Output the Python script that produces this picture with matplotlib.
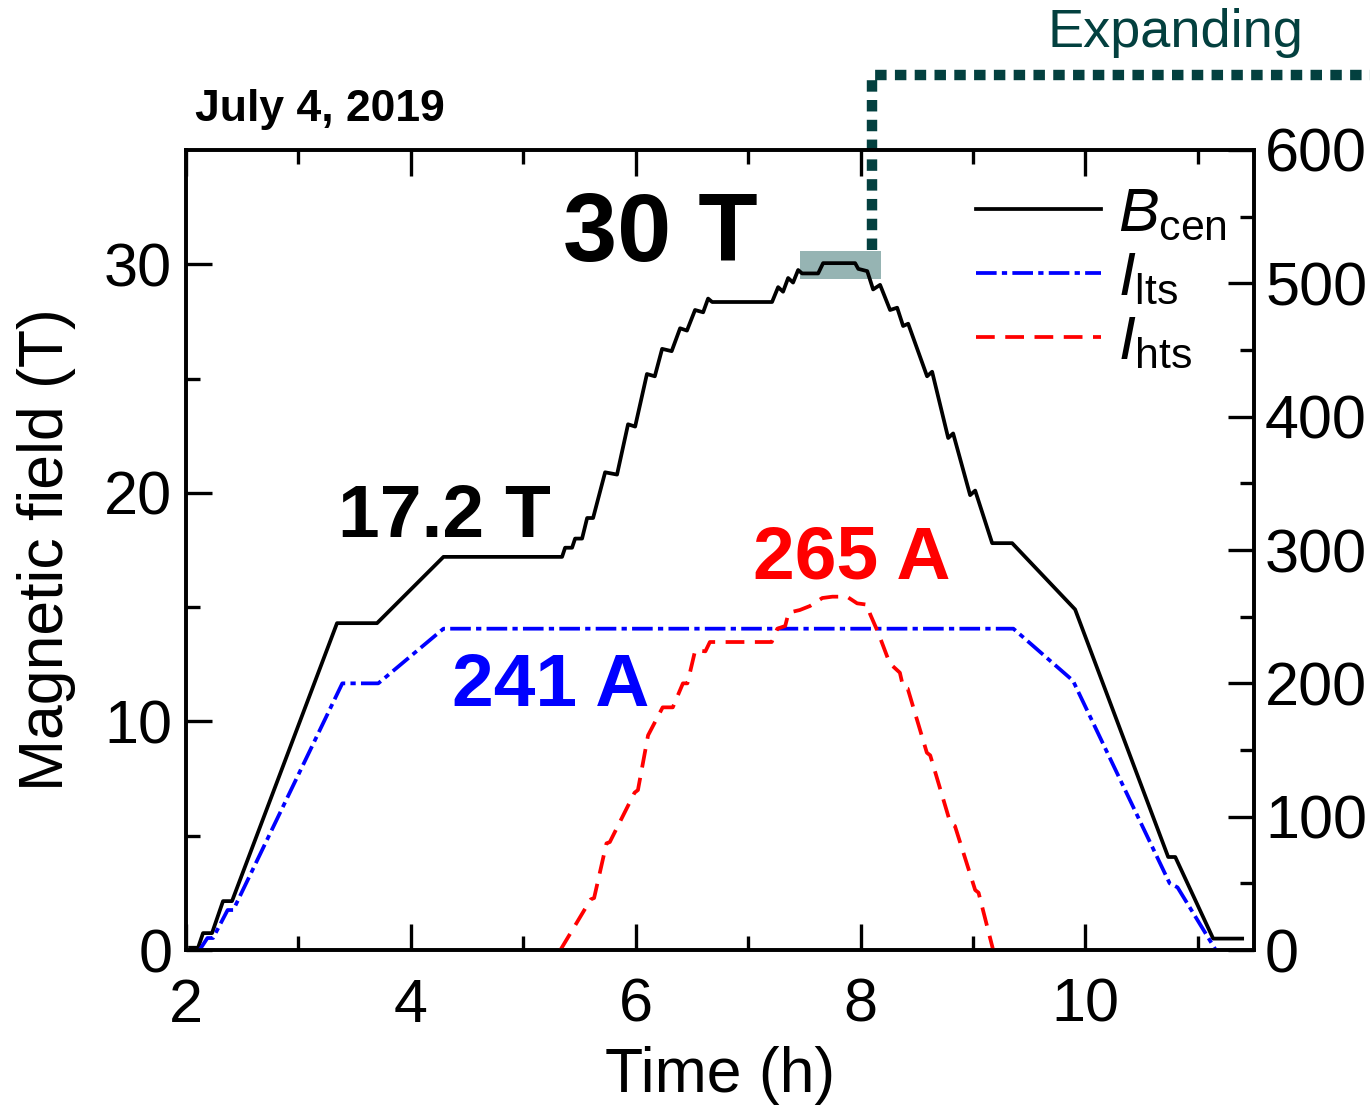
import numpy as np
import matplotlib.pyplot as plt
from matplotlib.patches import Rectangle

plt.rcParams['font.family'] = ['Liberation Sans', 'DejaVu Sans']
plt.rcParams['mathtext.fontset'] = 'custom'
plt.rcParams['mathtext.rm'] = 'Liberation Sans'
plt.rcParams['mathtext.it'] = 'Liberation Sans:italic'

# central field B_cen (T) vs time (h)
t_b = [2.036, 2.107, 2.151, 2.231, 2.329, 2.409, 3.343, 3.699, 4.29, 5.345,
       5.372, 5.434, 5.461, 5.523, 5.568, 5.621, 5.728, 5.834, 5.932, 5.995,
       6.10, 6.17, 6.235, 6.32, 6.395, 6.456, 6.528, 6.60, 6.644, 6.68,
       7.213, 7.267, 7.311, 7.356, 7.40, 7.445, 7.48, 7.623, 7.667, 7.952,
       7.98, 8.06, 8.112, 8.174, 8.263, 8.326, 8.379, 8.424, 8.592, 8.637,
       8.78, 8.824, 8.975, 9.02, 9.171, 9.349, 9.909, 10.737, 10.80, 11.137, 11.395]
b_cen = [0.1, 0.1, 0.74, 0.74, 2.14, 2.14, 14.3, 14.3, 17.2, 17.2,
         17.6, 17.6, 18.0, 18.0, 18.9, 18.9, 20.9, 20.8, 23.0, 22.9,
         25.2, 25.1, 26.3, 26.2, 27.2, 27.1, 28.0, 27.9, 28.5, 28.35,
         28.35, 29.0, 28.8, 29.4, 29.2, 29.75, 29.6, 29.6, 30.05, 30.05,
         29.8, 29.7, 28.9, 29.1, 28.0, 28.1, 27.3, 27.4, 25.1, 25.3,
         22.4, 22.6, 19.9, 20.1, 17.8, 17.8, 14.9, 4.07, 4.07, 0.5, 0.5]

# LTS coil current (A)
t_lts = [2.12, 2.19, 2.24, 2.37, 2.42, 3.39, 3.71, 4.29, 9.36, 9.89, 10.75, 10.82, 11.16]
i_lts = [0, 9, 9, 30, 30, 200, 200, 241, 241, 202, 50, 47, 0]

# HTS coil current (A)
t_hts = [5.33, 5.60, 5.63, 5.74, 5.77, 5.99, 6.02, 6.11, 6.24, 6.33,
         6.42, 6.46, 6.53, 6.62, 6.66, 7.21, 7.26, 7.33, 7.36, 7.46,
         7.55, 7.66, 7.75, 7.88, 7.97, 8.06, 8.085, 8.157, 8.26, 8.35,
         8.38, 8.42, 8.59, 8.62, 8.80, 8.84, 9.02, 9.05, 9.18]
i_hts = [0, 38, 39, 80, 81, 118, 120, 161, 182, 182,
         200, 200, 225, 224, 231, 231, 241, 243, 253, 255,
         258, 264, 265, 265, 260, 259, 252, 238, 215, 208,
         197, 196, 148, 146, 95, 93, 45, 43, 0]

fig = plt.figure(figsize=(13.7, 11.07), dpi=100)
ax = fig.add_axes([0.1358, 0.1418, 0.9153 - 0.1358, 0.8645 - 0.1418])
ax2 = ax.twinx()

l1, = ax.plot(t_b, b_cen, color='black', lw=2.7)
l2, = ax2.plot(t_lts, i_lts, color='#0000ff', lw=2.7, dashes=(5.5, 1.4, 1.4, 1.4))
l3, = ax2.plot(t_hts, i_hts, color='#ff0000', lw=2.7, dashes=(5, 2.8))

ax.set_xlim(2, 11.5)
ax.set_ylim(0, 35)
ax2.set_ylim(0, 600)
ax.set_xticks([2, 4, 6, 8, 10])
ax.set_xticks([3, 5, 7, 9, 11], minor=True)
ax.set_yticks([0, 10, 20, 30])
ax.set_yticks([5, 15, 25], minor=True)
ax2.set_yticks(np.arange(0, 601, 100))
ax2.set_yticks(np.arange(50, 600, 100), minor=True)

ax.tick_params(which='both', direction='in', width=2.4, labelsize=44,
               top=True, right=False)
ax.tick_params(axis='x', pad=20)
ax.tick_params(axis='y', pad=10)
ax.tick_params(which='major', length=19)
ax.tick_params(which='minor', length=10)
ax2.tick_params(which='both', direction='in', width=2.4, labelsize=44, pad=8)
ax2.tick_params(which='major', length=19)
ax2.tick_params(which='minor', length=10)
for a in (ax, ax2):
    for s in a.spines.values():
        s.set_linewidth(2.6)

ax.set_xlabel('Time (h)', fontsize=45, labelpad=8)
ax.set_ylabel('Magnetic field (T)', fontsize=45, labelpad=20)

# highlighted 30 T plateau and "expanding" guide
ax.add_patch(Rectangle((7.46, 29.36), 0.72, 1.24, facecolor='#2f6b68', alpha=0.5,
                       edgecolor='none', zorder=1))
teal = '#03403f'
ax.plot([8.103, 8.103, 12.6], [30.63, 38.28, 38.28], color=teal, lw=7.5,
        ls=(0, (1.1, 0.8)), dash_capstyle='butt', clip_on=False)
fig.text(1047 / 1370, 1 - 47 / 1107, 'Expanding', color=teal, fontsize=39,
         ha='left', va='baseline')

ax.text(6.22, 30.14, '30 T', fontsize=70, fontweight='bold', ha='center', va='baseline')
ax.text(4.30, 18.07, '17.2 T', fontsize=54, fontweight='bold', ha='center', va='baseline')
ax.text(7.92, 16.27, '265 A', fontsize=54, fontweight='bold', color='#ff0000',
        ha='center', va='baseline')
ax.text(5.24, 10.67, '241 A', fontsize=54, fontweight='bold', color='#0000ff',
        ha='center', va='baseline')
fig.text(195 / 1370, 1 - 121 / 1107, 'July 4, 2019', fontsize=32, fontweight='bold',
         ha='left', va='baseline')

ax2.legend([l1, l2, l3],
           [r'$\mathit{B}_{\mathrm{cen}}$', r'$\mathit{I}_{\mathrm{lts}}$',
            r'$\mathit{I}_{\mathrm{hts}}$'],
           loc='upper right', bbox_to_anchor=(0.975, 0.955), frameon=False,
           fontsize=44, handlelength=2.05, handletextpad=0.28, labelspacing=0.12,
           borderpad=0, borderaxespad=0)

fig.savefig('out.png', dpi=100)
